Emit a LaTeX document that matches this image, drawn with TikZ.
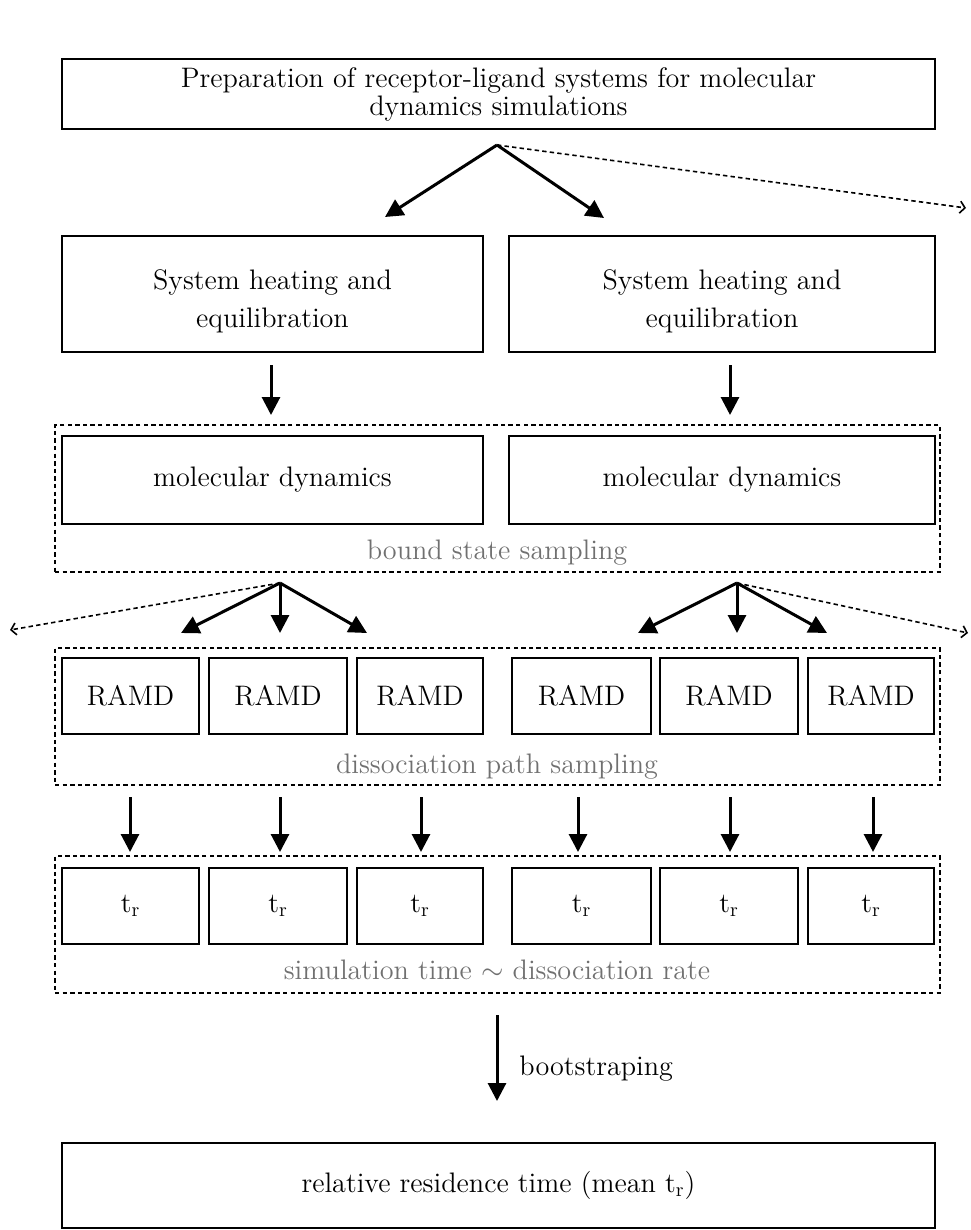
\documentclass[tikz,border=0pt]{standalone}
\usepackage{fontspec}
\usetikzlibrary{arrows.meta,fit}
\definecolor{labelgray}{RGB}{112,112,112}
\tikzset{
  box/.style={draw, line width=0.9pt, inner sep=0pt, align=center,
    font=\fontsize{14.1}{19}\selectfont},
  group/.style={draw, line width=0.9pt, dash pattern=on 2.2pt off 1.6pt, inner sep=0pt},
  grouplabel/.style={text=labelgray, font=\fontsize{14.1}{16}\selectfont, inner sep=0pt},
  flow/.style={line width=1.5pt, -{Triangle[length=9pt,width=9pt]}},
  extra/.style={line width=0.8pt, dash pattern=on 2.2pt off 1.6pt,
    -{Straight Barb[length=2.5pt,width=6pt]}},
  sbox/.style={box, minimum height=38pt},
  heatbox/.style={box, minimum height=58pt, text height=36.5pt},
}
\begin{document}
\begin{tikzpicture}[x=0.5pt,y=-0.5pt]
\useasboundingbox (0,0) rectangle (970,1230);

% preparation
\node[box, minimum width=436.5pt, minimum height=35pt,
  font=\fontsize{14.1}{14}\selectfont] (prep) at (498.5,94)
  {Preparation of receptor-ligand systems for molecular\\dynamics simulations};

% heating and equilibration
\node[heatbox, minimum width=210.5pt] (heatL) at (272.5,294)
  {System heating and\\equilibration};
\node[heatbox, minimum width=213pt] (heatR) at (722,294)
  {System heating and\\equilibration};

% bound state sampling
\node[group, fit={(55,425) (940,572)}] (bound) {};
\node[box, minimum width=210.5pt, minimum height=44pt] (mdL) at (272.5,480) {molecular dynamics};
\node[box, minimum width=213pt, minimum height=44pt] (mdR) at (722,480) {molecular dynamics};
\node[grouplabel] (boundlbl) at (497,553) {bound state sampling};

% dissociation path sampling
\node[group, fit={(55,648) (940,785)}] (diss) {};
\node[sbox, minimum width=68.5pt] (r1) at (130.5,696) {RAMD};
\node[sbox, minimum width=69pt]   (r2) at (278,696)   {RAMD};
\node[sbox, minimum width=63pt]   (r3) at (420,696)   {RAMD};
\node[sbox, minimum width=69.5pt] (r4) at (581.5,696) {RAMD};
\node[sbox, minimum width=69pt]   (r5) at (729,696)   {RAMD};
\node[sbox, minimum width=63pt]   (r6) at (871,696)   {RAMD};
\node[grouplabel] (disslbl) at (497,767) {dissociation path sampling};

% residence times
\node[group, fit={(55,856) (940,993)}] (sim) {};
\node[sbox, minimum width=68.5pt] (t1) at (130.5,906) {$\mathrm{t_r}$};
\node[sbox, minimum width=69pt]   (t2) at (278,906)   {$\mathrm{t_r}$};
\node[sbox, minimum width=63pt]   (t3) at (420,906)   {$\mathrm{t_r}$};
\node[sbox, minimum width=69.5pt] (t4) at (581.5,906) {$\mathrm{t_r}$};
\node[sbox, minimum width=69pt]   (t5) at (729,906)   {$\mathrm{t_r}$};
\node[sbox, minimum width=63pt]   (t6) at (871,906)   {$\mathrm{t_r}$};
\node[grouplabel] (simlbl) at (497,970) {simulation time $\sim$ dissociation rate};

% result
\node[box, minimum width=436.5pt, minimum height=42.5pt] (result) at (498.5,1185.5)
  {relative residence time (mean $\mathrm{t_r}$)};

% branching from the preparation
\coordinate (s0) at (497,145);
\coordinate (s0a) at (385,217);
\coordinate (s0b) at (604,218);
\coordinate (s0c) at (966,208);
\draw[flow] (s0) -- (s0a);
\draw[flow] (s0) -- (s0b);
\draw[extra] (s0) -- (s0c);

% heating to MD
\coordinate (hL1) at (271,365); \coordinate (hL2) at (271,415);
\coordinate (hR1) at (730,365); \coordinate (hR2) at (730,415);
\draw[flow] (hL1) -- (hL2);
\draw[flow] (hR1) -- (hR2);

% branching from MD (left)
\coordinate (bL) at (280,583);
\coordinate (bL1) at (181,633); \coordinate (bL2) at (280,633);
\coordinate (bL3) at (367,633); \coordinate (bL0) at (10,630);
\draw[flow] (bL) -- (bL1);
\draw[flow] (bL) -- (bL2);
\draw[flow] (bL) -- (bL3);
\draw[extra] (bL) -- (bL0);

% branching from MD (right)
\coordinate (bR) at (737,583);
\coordinate (bR1) at (638,633); \coordinate (bR2) at (737,633);
\coordinate (bR3) at (827,633); \coordinate (bR0) at (968,633);
\draw[flow] (bR) -- (bR1);
\draw[flow] (bR) -- (bR2);
\draw[flow] (bR) -- (bR3);
\draw[extra] (bR) -- (bR0);

% RAMD to residence times
\foreach \i/\xx in {1/130,2/280,3/421,4/578,5/730,6/873}{
  \coordinate (d\i a) at (\xx,797);
  \coordinate (d\i b) at (\xx,852);
  \draw[flow] (d\i a) -- (d\i b);
}

% bootstrapping
\coordinate (bs1) at (497,1015);
\coordinate (bs2) at (497,1101);
\draw[flow] (bs1) -- (bs2);
\node[anchor=west, inner sep=0pt, font=\fontsize{14.1}{16}\selectfont] (bslbl) at (519,1069) {bootstraping};
\end{tikzpicture}
\end{document}
